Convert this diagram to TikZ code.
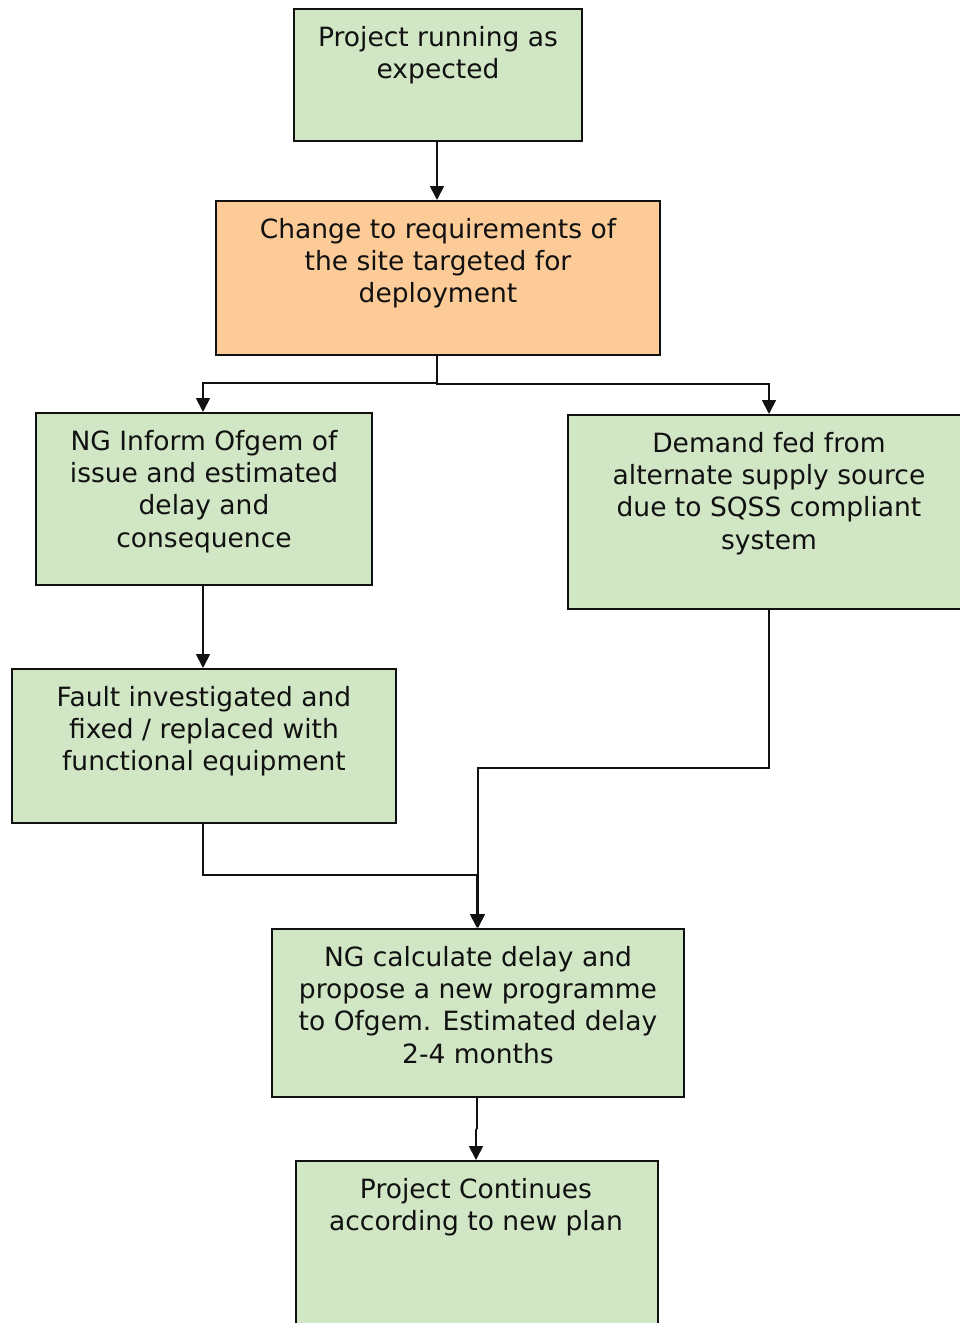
\documentclass[tikz,border=0pt]{standalone}
\usepackage{fontspec}
\setmainfont{DejaVu Sans}
\usetikzlibrary{arrows.meta}
\definecolor{boxgreen}{RGB}{208,230,196}
\definecolor{boxorange}{RGB}{252,203,152}
\definecolor{ink}{RGB}{17,17,17}
\tikzset{
  box/.style={draw=ink, line width=2pt, rectangle, anchor=north west, inner sep=0pt},
  txt/.style={anchor=north, inner sep=0pt, align=center, text=ink, font=\fontsize{26.5}{32.3}\selectfont},
  conn/.style={draw=ink, line width=1.8pt, -{Triangle[length=14pt,width=14pt]}},
}
\begin{document}
\begin{tikzpicture}[x=1pt,y=-1pt]
\useasboundingbox (0,0) rectangle (960,1323);
\begin{scope}
\clip (0,0) rectangle (960,1323);
% boxes
\node[box, fill=boxgreen, minimum width=288pt, minimum height=132pt] (b1) at (293,8) {};
\node[box, fill=boxorange, minimum width=444pt, minimum height=154pt] (b2) at (215,200) {};
\node[box, fill=boxgreen, minimum width=336pt, minimum height=172pt] (b3) at (35,412) {};
\node[box, fill=boxgreen, minimum width=404pt, minimum height=194pt] (b4) at (567,414) {};
\node[box, fill=boxgreen, minimum width=384pt, minimum height=154pt] (b5) at (11,668) {};
\node[box, fill=boxgreen, minimum width=412pt, minimum height=168pt] (b6) at (271,928) {};
\node[box, fill=boxgreen, minimum width=362pt, minimum height=180pt] (b7) at (295,1160) {};
\end{scope}
% texts
\node[txt] (t1) at ([yshift=-18pt]b1.north) {Project running as\\expected};
\node[txt] (t2) at ([yshift=-18pt]b2.north) {Change to requirements of\\the site targeted for\\deployment};
\node[txt] (t3) at ([yshift=-18pt]b3.north) {NG Inform Ofgem of\\issue and estimated\\delay and\\consequence};
\node[txt] (t4) at ([yshift=-18pt]b4.north -| 769,0) {Demand fed from\\alternate supply source\\due to SQSS compliant\\system};
\node[txt] (t5) at ([yshift=-18pt]b5.north) {Fault investigated and\\fixed / replaced with\\functional equipment};
\node[txt] (t6) at ([yshift=-18pt]b6.north) {NG calculate delay and\\propose a new programme\\to Ofgem. Estimated delay\\2-4 months};
\node[txt] (t7) at ([yshift=-18pt]b7.north -| 476,0) {Project Continues\\according to new plan};
% anchor coordinates
\coordinate (b1s) at (437,140);
\coordinate (b2t) at (437,200);
\coordinate (b2s) at (437,354);
\coordinate (b3t) at (203,412);
\coordinate (b3s) at (203,584);
\coordinate (b4t) at (769,414);
\coordinate (b4s) at (769,608);
\coordinate (b5t) at (203,668);
\coordinate (b5s) at (203,822);
\coordinate (b6t) at (477,928);
\coordinate (b6s) at (477,1096);
\coordinate (b7t) at (476,1160);
% connectors
\draw[conn] (b1s) -- (b2t);
\draw[conn] (b2s) -- (437,383) -- (203,383) -- (b3t);
\draw[conn] (b2s) -- (437,384) -- (769,384) -- (b4t);
\draw[conn] (b3s) -- (b5t);
\draw[conn] (b4s) -- (769,768) -- (478,768) -- (478,928);
\draw[conn] (b5s) -- (203,875) -- (477,875) -- (b6t);
\draw[conn] (b6s) -- (477,1128) -- (476,1130) -- (b7t);
\end{tikzpicture}
\end{document}
